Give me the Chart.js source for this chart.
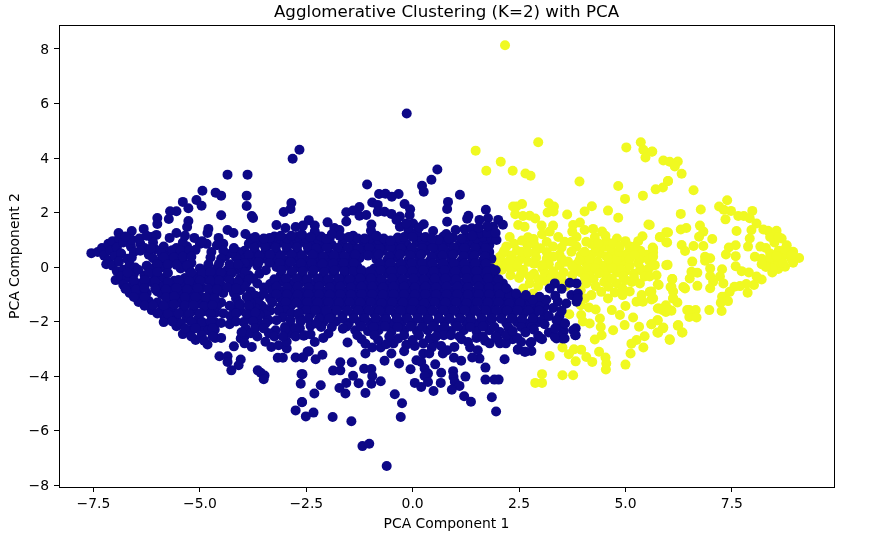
<!DOCTYPE html>
<html>
<head>
<meta charset="utf-8">
<title>Agglomerative Clustering (K=2) with PCA</title>
<script src="https://cdn.jsdelivr.net/npm/chart.js@4"></script>
<style>
  html, body { margin: 0; padding: 0; background: #fff; }
  canvas { display: block; }
</style>
</head>
<body>
<canvas id="pcaChart" width="883" height="551"></canvas>
<script>
// ---- Values, [PC1, PC2] ----
const clusterA_top = [[-0.14,5.63],[0.58,3.58],[0.44,3.2],[0.22,2.98],[0.26,2.76],[1.11,2.65],[0.83,2.39],[0.81,2.13],[0.81,1.66],[1.31,1.88],[1.28,1.77],[1.72,2.1],[0.26,1.57],[0.48,1.32],[-1.07,3.03],[-0.79,2.68],[-0.64,2.69],[-0.33,2.68],[-0.49,2.58],[-0.95,2.37],[-0.82,2.28],[-0.19,2.31],[-0.06,2.12],[-0.07,1.91],[-0.82,2.03],[-0.66,2.03],[-0.5,1.95],[-0.3,1.85],[-1.25,2.2],[-1.56,2.01],[-1.4,2.07],[-1.25,1.88],[-1.09,1.91],[-1.56,1.67],[-0.97,1.56],[-0.98,1.33],[-2,1.64],[-1.84,1.43],[-1.72,1.36],[-1.72,1.15],[-2.44,1.72],[-2.3,1.52],[-2.58,1.52],[-2.3,1.3],[-1.29,1.05],[-1.13,1.05],[-0.68,1.05],[-0.52,0.97],[-2.03,1.03],[-0.3,1.48],[0.01,1.6],[-0.38,1.73],[-0.1,1.35],[0.1,1.3],[-0.2,1.1],[0.3,1.1],[0.79,1.21],[1.01,1.36],[1.22,1.39],[1.39,1.42],[1.57,1.73],[1.77,1.79],[2.01,1.73],[2.12,1.55],[1.57,1.24],[1.89,1.48],[1.97,0.99],[1.75,1.25],[1.4,1.15],[1.15,1.05],[0.6,1.0],[-2.66,4.3],[-2.82,3.97],[-2.85,2.35],[-2.87,2.13],[-3.03,2.02],[-3.2,1.54],[-2.99,1.43],[-2.75,1.47],[-3.36,1.07],[-3.93,1.21],[-2.85,1.15],[-2.6,1.2],[-3.1,1.15],[-3.7,1.1],[-3.5,1.05],[-2.4,1.1],[-1.9,1.2],[-1.5,1.1],[-0.85,1.15],[0,1.1],[0.15,1.45],[0.45,1.05],[0.85,1.05],[1.55,1.45],[1.75,1.5],[1.95,1.25],[-0.15,1.6]];
const clusterA_left = [[-4.35,3.39],[-3.88,3.39],[-4.94,2.8],[-4.63,2.73],[-4.5,2.62],[-3.9,2.62],[-3.9,2.24],[-3.78,1.87],[-3.75,1.8],[-4.5,1.9],[-5.08,2.46],[-5.4,2.39],[-4.96,2.25],[-5.27,2.16],[-5.55,2.05],[-5.7,2.05],[-5.73,1.76],[-6,1.8],[-6,1.58],[-5.27,1.69],[-5.3,1.47],[-4.8,1.4],[-4.82,1.25],[-6.32,1.4],[-6.6,1.32],[-6.91,1.25],[-6.02,1.18],[-6.14,1.1],[-5.55,1.25],[-5.71,1.07],[-5.13,1.07],[-4.35,1.36],[-4.21,1.25],[-4.56,1.07],[-4.84,0.85],[-5.1,0.63],[-4.73,0.55],[-4.26,0.51],[-4.45,0.85],[-4.6,0.8],
[-7.55,0.51],[-7.4,0.55],[-7.3,0.7],[-7.15,0.85],[-7.05,0.95],[-6.9,1.05],[-7.25,0.42],[-7.1,0.6],[-6.95,0.72],[-6.8,0.9],[-7.15,0.25],[-7,0.4],[-6.85,0.5],[-6.62,0.75],[-7.2,0.1],[-7.05,0.05],[-6.9,0.2],[-6.7,0.3],[-6.55,0.55],[-6.95,-0.15],[-6.8,-0.1],[-6.65,0.08],[-6.52,-0.02],[-6.98,-0.48],[-6.85,-0.35],[-6.7,-0.4],[-6.55,-0.25],[-6.4,0.85],[-6.3,0.7],[-6.6,1.0],[-6.42,1.05],[-6.2,0.45],[-6.05,0.65],[-6.1,0.9],[-5.85,0.75],[-5.75,0.55],[-5.55,0.7],[-5.4,0.9],[-5.55,0.45],[-5.35,0.5],[-5.4,0.25],[-5.7,0.25],[-5.95,0.2],[-5.9,-0.02],[-5.2,0.15],[-5.25,-0.1],[-5.0,-0.05],[-4.85,-0.1],[-5.45,-0.05],[-6.15,-0.1],[-6.3,-0.3],[-6.05,-0.3],[-5.85,-0.4],[-5.6,-0.5],[-5.35,-0.4],[-5.1,-0.35],[-4.85,-0.45],[-4.65,-0.3],[-4.45,-0.35],[-4.6,-0.05],[-4.35,-0.1],[-4.15,-0.1],[-6.8,-0.65],[-6.6,-0.7],[-6.4,-0.6],[-6.15,-0.55],[-5.9,-0.7],[-5.65,-0.8],[-5.4,-0.7],[-5.15,-0.65],[-4.95,-0.75],[-4.7,-0.65],[-4.5,-0.65],[-6.65,-0.95],[-6.45,-0.98],[-5.9,-1.0],[-5.7,-1.1],[-5.45,-1.0],[-5.2,-0.95],[-5.0,-1.05],[-4.75,-1.05],[-4.5,-1.3],[-6.44,-1.28],[-6.2,-1.25],[-6.0,-1.3],[-5.75,-1.4],[-5.5,-1.3],[-5.25,-1.25],[-5.05,-1.35],[-4.8,-1.35],[-4.6,-1.45],[-6.13,-1.58],[-5.9,-1.58],[-5.65,-1.65],[-5.4,-1.6],[-5.15,-1.6],[-4.9,-1.62],[-5.83,-1.83],[-5.85,-2.02],[-5.55,-2.17],[-5.4,-2.46],[-5.1,-2.68],[-4.82,-2.84],[-4.5,-2.6],[-4.64,-2.6],[-4.2,-2.91],[-4.54,-3.27],[-4.35,-3.27],[-4.35,-3.48],[-4.04,-3.39],[-4.09,-3.6],[-4.26,-3.79],[-3.64,-3.79],[-3.57,-3.88],[-3.48,-3.98],[-3.5,-4.12],[-3.78,-2.93],[-4.04,-2.62],[-3.17,-3.33],[-3.05,-3.33],[-2.75,-3.32],[-2.58,-3.32],[-2.47,-3.11],[-2.61,-3.93],[-2.63,-4.28],[-2.6,-4.96],[-2.75,-5.26],[-2.51,-5.48],[-4.64,-1.68],[-4.28,-1.8],[-4.65,-2.02],[-4.5,-2.05],[-4.3,-2.1],[-5.03,-1.88],[-5.31,-1.88],[-5.45,-2.07],[-5.22,-2.32],[-4.9,-2.32],[-4.8,-2.32],[-4.96,-2.5],[-3.97,-2.02],[-3.92,-2.26],[-4.02,-2.39],[-3.8,-2.43],[-3.61,-2.07],[-3.38,-1.95],[-3.2,-1.95],[-3.22,-2.32],[-3.38,-2.43],[-3.46,-2.74],[-3.32,-2.93],[-3.15,-2.87],[-2.96,-2.99],[-2.96,-2.74],[-2.87,-2.43],[-2.87,-1.95],[-2.68,-1.7],[-2.63,-2],[-2.54,-2.5],[-3.0,-2.2],[-3.6,-1.75],[-3.85,-1.7],[-4.05,-1.6],[-4.1,-1.3],[-3.8,-1.35]];
const clusterA_leftFill = [[-6.75,1.12],[-6.25,1.15],[-5.35,1.15],[-4.95,0.95],[-6.4,0.6],[-6.15,0.68],[-5.9,0.5],[-5.65,0.62],[-5.45,0.6],[-5.25,0.62],[-4.45,0.6],[-4.2,0.7],[-6.1,0.32],[-5.85,0.35],[-5.6,0.35],[-5.4,0.38],[-5.2,0.38],[-4.75,0.35],[-4.5,0.3],[-6.6,0.35],[-6.45,-0.1],[-6,0.1],[-5.75,0.08],[-5.55,0.08],[-5.3,0.05],[-4.8,0.1],[-4.55,0.12],[-4.3,0.1],[-4.1,0.1],[-6.7,-0.2],[-6.2,-0.22],[-6,-0.18],[-5.75,-0.22],[-5.2,-0.2],[-4.95,-0.22],[-4.75,-0.18],[-4.5,-0.2],[-4.25,-0.22],[-6.55,-0.5],[-6.3,-0.48],[-6.05,-0.52],[-5.75,-0.55],[-5.5,-0.48],[-5.25,-0.52],[-5,-0.5],[-4.75,-0.5],[-4.55,-0.5],[-4.3,-0.48],[-4.1,-0.52],[-6.75,-0.8],[-6.5,-0.82],[-6.3,-0.78],[-6.05,-0.8],[-5.8,-0.82],[-5.55,-0.78],[-5.3,-0.82],[-5.05,-0.78],[-4.8,-0.8],[-4.6,-0.82],[-4.35,-0.75],[-4.15,-0.8],[-6.55,-1.1],[-6.3,-1.1],[-5.8,-1.12],[-5.6,-1.08],[-5.35,-1.12],[-5.1,-1.1],[-4.85,-1.12],[-4.65,-1.15],[-3.9,-1.1],[-6.3,-1.42],[-6.1,-1.4],[-5.85,-1.42],[-5.6,-1.38],[-5.35,-1.42],[-5.15,-1.4],[-4.9,-1.45],[-4.7,-1.4],[-4.3,-1.42],[-4.05,-1.38],[-3.85,-1.42],[-6,-1.7],[-5.75,-1.72],[-5.5,-1.7],[-5.25,-1.72],[-5,-1.7],[-4.75,-1.72],[-4.45,-1.7],[-4.15,-1.7],[-3.9,-1.72],[-3.7,-1.68],[-5.65,-2],[-5.2,-2],[-4.95,-2.02],[-4.75,-2],[-4.15,-2],[-3.75,-2],[-3.45,-2.05],[-5.35,-2.25],[-5.1,-2.25],[-4.7,-2.25],[-3.7,-2.25],[-3.5,-2.25],[-3,-2.3],[-2.75,-2.25],[-5.2,-2.55],[-4.7,-2.55],[-3.65,-2.55],[-3.25,-2.55],[-3.05,-2.55],[-2.75,-2.55],[-4.9,-2.7],[-3.95,-2.8]];
const clusterA_bottom = [[-0.61,-7.3],[-1.18,-6.57],[-1.02,-6.48],[-1.44,-5.66],[-1.88,-5.5],[-2.33,-5.34],[-0.28,-5.5],[-0.25,-5],[-0.42,-4.67],[-1.11,-4.62],[-1.58,-4.64],[-1.72,-4.44],[-1.56,-4.25],[-1.27,-4.26],[-1.4,-3.99],[-2.16,-4.34],[-2.31,-4.64],[-2.6,-4.95],[-2.59,-3.93],[-1.87,-3.8],[-1.7,-3.79],[-1.7,-3.49],[-1.43,-3.49],[-1.14,-3.73],[-0.97,-3.74],[-0.95,-4],[-0.97,-4.28],[-0.75,-4.19],[-1.11,-3.17],[-1.53,-2.77],[-1.98,-2.44],[-2.28,-3.38],[-2.12,-3.22],[-2.44,-3.09],[-2.58,-3.32],[-2.56,-2.52],[-2.4,-2.47],[-2.26,-2.07],[-0.66,-3.44],[-0.5,-3.17],[-0.32,-3.54],[-0.2,-3.09],[-0.05,-3.75],[0.05,-2.9],[0.09,-3.42],[0.25,-3.17],[0.39,-3.17],[0.2,-3.48],[0.28,-3.72],[0.53,-3.57],[0.36,-3.91],[0.67,-3.88],[0.28,-4],[0.05,-4.25],[0.2,-4.4],[0.36,-4.22],[0.66,-4.25],[0.49,-4.55],[0.95,-3.82],[0.96,-4.03],[0.99,-4.22],[1.1,-4.36],[0.92,-4.5],[1.24,-4.02],[1.21,-4.74],[1.37,-4.94],[1.86,-4.78],[1.96,-5.3],[1.71,-4.13],[2.02,-4.13],[1.71,-3.69],[2.16,-3.38],[1.57,-3.36],[1.4,-3.32],[0.97,-3.33],[1.14,-3.44],[0.71,-3.17],[0.81,-3.05],[0.98,-2.93],[0.67,-2.9],[1.53,-3.05],[1.81,-2.8],[2.05,-2.8],[2.19,-2.8],[2.47,-3.03],[2.65,-3.11],[2.79,-3.08],[2.77,-2.78],[3.04,-2.65],[2.95,-2.52],[2.46,-2.6],[3.38,-2.62],[3.52,-2.62],[3.83,-2.5],[3.83,-2.25],[3.57,-2.07],[3.38,-1.95],[3.85,-1.27],[3.73,-1.03],[3.85,-0.6],[3.69,-0.58],[3.34,-0.6],[3.61,-1.34],[3.14,-1.2],[2.98,-1.09],[2.82,-1.2],[2.66,-1.03],[2.43,-0.97],[2.2,-0.78],[-1.11,-2.81],[-0.81,-2.68],[-0.62,-2.83],[-0.34,-2.62],[0,-2.68],[0.4,-2.62],[0.73,-2.5],[-1.64,-2.26],[3.22,-0.79],[3.88,-0.97],[3.88,-1.15],[3.41,-1.27],[3.77,-2.32],[3.82,-2.5],[3.58,-2.07],[3.45,-2.56],[3.34,-2.56],[3.57,-2.62],[2.99,-2.6],[2.79,-2.75],[2.48,-3.02],[2.63,-3.11],[1.92,-4.13],[3.5,-0.8],[3.35,-1.05],[3.3,-1.5],[3.5,-1.6],[3.2,-1.8],[3.1,-2.1],[3.35,-2.25],[2.85,-2.3],[1.3,-2.75],[1.5,-2.6],[2.2,-2.5],[2.35,-2.35],[2.65,-2.4],[-1.3,-2.5],[-0.9,-2.5],[-0.55,-2.55],[-0.2,-2.5],[0.15,-2.5],[0.55,-2.55],[0.9,-2.5],[1.1,-2.55],[1.65,-2.55],[1.95,-2.55]];
const clusterA_core = [[-3.85,0.85],[-3.6,0.9],[-3.35,0.82],[-3.1,0.9],[-2.85,0.85],[-2.6,0.92],[-2.35,0.85],[-2.15,0.78],[-1.9,0.82],[-1.65,0.88],[-1.4,0.8],[-1.15,0.85],[-0.9,0.8],[-0.65,0.85],[-0.4,0.78],[-0.15,0.85],[0.1,0.9],[0.35,0.82],[0.6,0.8],[0.85,0.88],[1.1,0.82],[1.35,0.85],[1.6,0.9],[1.8,0.8],
[-3.95,0.6],[-3.7,0.55],[-3.45,0.62],[-3.2,0.55],[-2.95,0.6],[-2.7,0.55],[-2.45,0.62],[-2.2,0.55],[-1.95,0.5],[-1.7,0.58],[-1.45,0.52],[-1.2,0.58],[-0.95,0.55],[-0.7,0.6],[-0.45,0.52],[-0.2,0.58],[0.05,0.55],[0.3,0.6],[0.55,0.52],[0.8,0.55],[1.05,0.6],[1.3,0.52],[1.55,0.58],[1.8,0.55],
[-4,0.3],[-3.75,0.25],[-3.5,0.32],[-3.25,0.28],[-3,0.25],[-2.75,0.3],[-2.5,0.25],[-2.25,0.32],[-2,0.22],[-1.75,0.28],[-1.5,0.25],[-1.25,0.32],[-0.85,0.28],[-0.6,0.25],[-0.35,0.32],[-0.1,0.25],[0.15,0.3],[0.4,0.22],[0.65,0.28],[0.9,0.3],[1.15,0.25],[1.4,0.3],[1.65,0.25],[1.85,0.3],
[-3.9,0.02],[-3.65,0.05],[-3.2,0],[-2.95,0.05],[-2.7,-0.02],[-2.45,0.02],[-2.2,0],[-1.95,-0.05],[-1.7,0.02],[-1.5,-0.02],[-1.3,0.02],[-0.9,-0.05],[-0.65,0.02],[-0.4,-0.03],[-0.15,0.05],[0.1,-0.02],[0.35,0.03],[0.6,-0.05],[0.85,0],[1.1,0.03],[1.35,-0.03],[1.6,0.02],[1.85,-0.05],
[-3.85,-0.3],[-3.6,-0.25],[-3.1,-0.3],[-2.85,-0.25],[-2.6,-0.3],[-2.35,-0.25],[-2.1,-0.32],[-1.85,-0.25],[-1.6,-0.3],[-1.35,-0.28],[-1.1,-0.25],[-0.85,-0.3],[-0.6,-0.25],[-0.35,-0.32],[-0.1,-0.25],[0.15,-0.3],[0.4,-0.28],[0.65,-0.25],[0.9,-0.32],[1.15,-0.25],[1.4,-0.3],[1.65,-0.28],[1.9,-0.3],
[-3.9,-0.55],[-3.65,-0.6],[-3.35,-0.62],[-3.1,-0.55],[-2.85,-0.6],[-2.6,-0.55],[-2.35,-0.62],[-2.1,-0.55],[-1.85,-0.6],[-1.6,-0.55],[-1.35,-0.6],[-1.1,-0.58],[-0.85,-0.55],[-0.6,-0.62],[-0.35,-0.55],[-0.1,-0.6],[0.15,-0.55],[0.4,-0.6],[0.65,-0.58],[0.9,-0.55],[1.15,-0.6],[1.4,-0.55],[1.65,-0.6],[1.9,-0.58],[2.12,-0.6],
[-4.05,-0.85],[-3.8,-0.9],[-3.3,-0.85],[-3.05,-0.9],[-2.8,-0.85],[-2.55,-0.92],[-2.3,-0.85],[-2.05,-0.9],[-1.8,-0.85],[-1.55,-0.88],[-1.3,-0.85],[-1.05,-0.9],[-0.8,-0.85],[-0.55,-0.9],[-0.3,-0.85],[-0.05,-0.88],[0.2,-0.85],[0.45,-0.9],[0.7,-0.85],[0.95,-0.88],[1.2,-0.85],[1.45,-0.9],[1.7,-0.85],[1.95,-0.9],[2.15,-0.95],
[-3.6,-1.1],[-3.35,-1.15],[-3.1,-1.15],[-2.85,-1.1],[-2.6,-1.18],[-2.35,-1.12],[-2.1,-1.15],[-1.85,-1.1],[-1.6,-1.18],[-1.35,-1.12],[-1.1,-1.15],[-0.85,-1.1],[-0.6,-1.18],[-0.35,-1.12],[-0.1,-1.15],[0.15,-1.1],[0.4,-1.18],[0.65,-1.12],[0.9,-1.15],[1.15,-1.1],[1.4,-1.18],[1.65,-1.12],[1.9,-1.15],[2.15,-1.2],[2.4,-1.2],[2.62,-1.28],
[-3.55,-1.42],[-3.1,-1.45],[-2.85,-1.4],[-2.6,-1.45],[-2.35,-1.4],[-2.1,-1.48],[-1.85,-1.42],[-1.6,-1.45],[-1.35,-1.4],[-1.1,-1.45],[-0.85,-1.42],[-0.6,-1.48],[-0.35,-1.4],[-0.1,-1.45],[0.15,-1.42],[0.4,-1.48],[0.65,-1.4],[0.9,-1.45],[1.15,-1.42],[1.4,-1.48],[1.65,-1.4],[1.9,-1.45],[2.15,-1.42],[2.4,-1.48],[2.65,-1.45],[2.9,-1.48],[3.1,-1.45],
[-2.4,-1.72],[-2.15,-1.75],[-1.9,-1.72],[-1.65,-1.78],[-1.4,-1.72],[-1.15,-1.75],[-0.9,-1.72],[-0.65,-1.78],[-0.4,-1.72],[-0.15,-1.75],[0.1,-1.72],[0.35,-1.78],[0.6,-1.72],[0.85,-1.75],[1.1,-1.72],[1.35,-1.78],[1.6,-1.72],[1.85,-1.75],[2.1,-1.72],[2.35,-1.78],[2.6,-1.72],[2.85,-1.75],[3.1,-1.72],
[-2.1,-2.02],[-1.8,-2.0],[-1.5,-2.05],[-1.25,-2.02],[-1,-2.05],[-0.75,-2.02],[-0.5,-2.08],[-0.25,-2.02],[0,-2.05],[0.25,-2.02],[0.5,-2.08],[0.75,-2.02],[1,-2.05],[1.25,-2.02],[1.5,-2.08],[1.75,-2.0],[2.2,-2.05],[2.45,-2.02],[2.7,-2.08],[2.95,-2.02],
[-1.35,-2.32],[-1.05,-2.35],[-0.8,-2.32],[-0.5,-2.38],[-0.2,-2.32],[0.1,-2.35],[0.35,-2.32],[0.6,-2.3],[0.9,-2.35],[1.2,-2.32],[1.5,-2.35],[1.8,-2.32],[2.05,-2.38]];
const clusterA_coreFill = [[-3.72,0.98],[-3.22,1.0],[-2.72,1.0],[-2.22,1.0],[-1.42,1.0],[-0.28,0.98],[0.22,1.0],[0.72,0.98],[1.22,1.0],[1.72,1.02],
[-3.72,0.72],[-3.47,0.75],[-3.22,0.72],[-2.97,0.75],[-2.72,0.72],[-2.47,0.75],[-2.27,0.68],[-2.02,0.72],[-1.77,0.7],[-1.52,0.72],[-1.27,0.68],[-1.02,0.72],[-0.77,0.7],[-0.52,0.72],[-0.27,0.68],[-0.02,0.72],[0.22,0.7],[0.47,0.72],[0.72,0.68],[0.97,0.72],[1.22,0.7],[1.47,0.72],[1.72,0.7],
[-3.85,0.45],[-3.6,0.42],[-3.35,0.45],[-3.1,0.42],[-2.85,0.45],[-2.6,0.42],[-2.35,0.45],[-2.1,0.38],[-1.85,0.42],[-1.6,0.4],[-1.35,0.45],[-1.05,0.42],[-0.8,0.45],[-0.55,0.4],[-0.3,0.45],[-0.05,0.42],[0.2,0.45],[0.45,0.38],[0.7,0.42],[0.95,0.45],[1.2,0.4],[1.45,0.42],[1.7,0.4],
[-3.85,0.15],[-3.62,0.18],[-3.37,0.15],[-3.12,0.15],[-2.87,0.18],[-2.62,0.13],[-2.37,0.15],[-2.12,0.12],[-1.87,0.12],[-1.62,0.15],[-1.38,0.15],[-0.77,0.12],[-0.52,0.15],[-0.27,0.12],[-0.02,0.15],[0.22,0.15],[0.47,0.12],[0.72,0.13],[0.97,0.15],[1.22,0.12],[1.47,0.15],[1.72,0.12],
[-3.45,-0.12],[-3.08,-0.12],[-2.83,-0.15],[-2.58,-0.15],[-2.33,-0.12],[-2.08,-0.18],[-1.83,-0.12],[-1.6,-0.15],[-1.4,-0.15],[-1.2,-0.12],[-1,-0.15],[-0.75,-0.12],[-0.5,-0.15],[-0.25,-0.12],[0,-0.15],[0.25,-0.12],[0.5,-0.15],[0.75,-0.12],[1,-0.15],[1.25,-0.12],[1.5,-0.15],[1.75,-0.15],[1.95,-0.12],
[-3.75,-0.42],[-3.25,-0.45],[-2.98,-0.42],[-2.73,-0.42],[-2.48,-0.45],[-2.23,-0.42],[-1.98,-0.45],[-1.73,-0.42],[-1.48,-0.45],[-1.23,-0.42],[-0.98,-0.42],[-0.73,-0.45],[-0.48,-0.42],[-0.23,-0.45],[0.02,-0.42],[0.27,-0.45],[0.52,-0.42],[0.77,-0.42],[1.02,-0.45],[1.27,-0.42],[1.52,-0.45],[1.77,-0.42],[2.02,-0.45],
[-3.95,-0.72],[-3.5,-0.75],[-3.2,-0.72],[-2.95,-0.75],[-2.7,-0.72],[-2.45,-0.75],[-2.2,-0.72],[-1.95,-0.75],[-1.7,-0.72],[-1.45,-0.75],[-1.2,-0.72],[-0.95,-0.72],[-0.7,-0.75],[-0.45,-0.72],[-0.2,-0.72],[0.05,-0.75],[0.3,-0.72],[0.55,-0.75],[0.8,-0.72],[1.05,-0.72],[1.3,-0.75],[1.55,-0.72],[1.8,-0.75],[2.02,-0.75],[2.25,-0.9],
[-3.5,-0.98],[-3.2,-1],[-2.95,-1],[-2.7,-1.02],[-2.45,-1],[-2.2,-1],[-1.95,-1.02],[-1.7,-1],[-1.45,-1.02],[-1.2,-1],[-0.95,-1],[-0.7,-1.02],[-0.45,-1],[-0.2,-1],[0.05,-1.02],[0.3,-1],[0.55,-1.02],[0.8,-1],[1.05,-1],[1.3,-1.02],[1.55,-1],[1.8,-1],[2.05,-1.02],[2.28,-1.05],[2.5,-1.12],
[-3.3,-1.3],[-2.98,-1.28],[-2.73,-1.3],[-2.48,-1.28],[-2.23,-1.3],[-1.98,-1.28],[-1.73,-1.3],[-1.48,-1.28],[-1.23,-1.3],[-0.98,-1.28],[-0.73,-1.32],[-0.48,-1.28],[-0.23,-1.3],[0.02,-1.28],[0.27,-1.32],[0.52,-1.28],[0.77,-1.3],[1.02,-1.28],[1.27,-1.32],[1.52,-1.28],[1.77,-1.3],[2.02,-1.28],[2.27,-1.32],[2.52,-1.3],[2.77,-1.32],[3,-1.35],
[-3.35,-1.6],[-2.98,-1.58],[-2.5,-1.58],[-2.28,-1.58],[-2.03,-1.6],[-1.78,-1.58],[-1.53,-1.6],[-1.28,-1.58],[-1.03,-1.6],[-0.78,-1.6],[-0.53,-1.58],[-0.28,-1.6],[-0.03,-1.58],[0.22,-1.6],[0.47,-1.6],[0.72,-1.58],[0.97,-1.6],[1.22,-1.58],[1.47,-1.6],[1.72,-1.58],[1.97,-1.6],[2.22,-1.6],[2.47,-1.58],[2.72,-1.6],[2.97,-1.6],
[-2.2,-1.9],[-1.95,-1.88],[-1.65,-1.9],[-1.38,-1.88],[-1.12,-1.9],[-0.87,-1.88],[-0.62,-1.92],[-0.37,-1.88],[-0.12,-1.9],[0.12,-1.88],[0.37,-1.92],[0.62,-1.88],[0.87,-1.9],[1.12,-1.88],[1.37,-1.92],[1.62,-1.88],[1.87,-1.9],[2.08,-1.9],[2.32,-1.9],[2.57,-1.92],[2.82,-1.9],[3.05,-1.95],
[-1.55,-2.18],[-1.2,-2.18],[-0.92,-2.2],[-0.65,-2.18],[-0.35,-2.2],[-0.05,-2.18],[0.22,-2.2],[0.47,-2.18],[0.75,-2.2],[1.05,-2.18],[1.35,-2.2],[1.65,-2.18],[1.92,-2.2],[2.25,-2.22],[2.55,-2.2],[2.8,-2.2]];
const clusterA_gaps = [[-3.8,1.05],[-3.25,1.12],[-2.95,1.05],[-2.7,1.12],[-2.5,1.05],[-2.15,1.12],[-1.95,1.05],[-1.6,1.05],[-1.4,1.15],[-1,1.05],[-0.8,1],[-0.35,1.08],[0.15,1.12],[0.72,1.12],[0.95,1.08],[1.25,1.12],[1.5,1.05],[1.65,1.1],[1.85,1.05],
[-4.1,0.55],[-3.95,0.15],[-4.05,-0.05],[-3.95,-0.2],[-4.05,-0.4],[-3.85,-0.45],[-3.95,-0.7],[-4.2,-0.95],[-3.7,-1.05],[-3.85,-1.2],[-3.65,-1.3],[-4.2,-1.55],[-3.7,-1.5],[-3.45,-1.55],[-3.45,-1.75],[-3.15,-1.6],[-3.05,-1.85],[-2.85,-1.7],[-2.65,-1.85],[-2.45,-1.9],[-2.4,-2.15],[-2.15,-2.2],[-1.9,-2.2],[-2.85,-2.2],[-2.65,-2.25],[-2.3,-2.75],[-2.1,-2.6],[-1.2,-2.65],[-0.95,-2.95],[-0.75,-2.95],[-0.45,-2.8],[-0.15,-2.85],[0.25,-2.8],[0.5,-2.8],[0.45,-2.95],[1.15,-2.65],[1.35,-2.95],[1.7,-2.7],[2,-2.65],[2.35,-2.65],[2.55,-2.75],[3.2,-2.4],[3.55,-2.35],[3.5,-2.15],[3.45,-1.8],
[-6.05,0],[-6.25,0.05],[-5.3,0.75],[-5,0.85],[-4.65,-0.2],[-4.4,0.4],[-4.15,0.35],[-4.25,-0.6],[-4.45,-0.95],[-4.15,-1.15],[-6.25,-0.95],[-6,-0.9],[-5.55,-1.2],[-5.2,-1.15],[-4.95,-1.2],[-5.05,-0.55],[-4.6,-0.9],[-4.75,-1.55],[-5.55,-1.85],[-5.7,-1.9],[-5.05,-2.15],[-4.85,-2.1],[-4.65,-2.3],[-3.85,-1.9],[-3.65,-1.9],[-3.95,-2.55]];

const clusterB_top = [[2.17,8.14],[2.95,4.58],[1.48,4.27],[2.07,3.86],[1.73,3.53],[2.35,3.53],[2.65,3.43],[2.77,3.35],[3.92,3.14],[5.02,4.39],[5.36,4.58],[5.42,4.3],[5.62,4.23],[5.47,4.02],[5.89,3.91],[6.04,3.86],[4.83,2.97],[4.99,2.5],[5.41,2.62],[5.71,2.85],[5.88,2.92],[6,3.16],[4.21,2.23],[4.04,2.04],[4.59,2.07],[4.83,1.81],[3.63,1.93],[5.54,1.56],[5.4,1.13],[5.81,1.1],[5.96,1.28],[5.96,0.91],[5.96,0.07],[2.57,2.31],[2.44,2.22],[2.41,1.94],[3.2,2.34],[3.32,2.22],[3.17,2],[3.31,2.04],[2.59,1.87],[2.75,1.88],[2.88,1.78],[2.48,1.54],[2.63,1.48],[3.03,1.52],[3.3,1.52],[3.77,1.54],[3.93,1.63],[3.75,1.3],[4.04,1.36],[4.24,1.4],[3.04,1.2],[3.22,1.3],[3.42,1.1],[3.57,0.93],[3.73,0.93],[4.08,0.93],[4.28,1.1],[4.53,1.15],[2.28,1.1],[2.57,0.97],[2.71,1.09],[2.84,1.03],[2.2,0.75],[2.12,0.5],[2.55,0.56],[2.71,0.52],[3,0.69],[3.3,0.75],[3.3,0.38],[3.73,0.56],[4.04,0.56],[4.36,0.87],[4.71,0.87],[4.87,0.75],[5.1,0.75],[5.22,0.75],[5.22,0.44],[5.64,0.72],[5.65,0.53],[5.54,0.27],[5.69,0.07],[2.28,0.25],[2.71,0.19],[3.03,0.07],[3.57,0.19],[3.92,0.25],[2,0.14],[2.05,0.38],[1.93,0.01],[2.15,0.6],[2.36,2.22]];
const clusterB_right = [[5.63,4.24],[6.23,3.87],[6.16,3.69],[6.32,3.42],[6,3.16],[6.6,2.82],[7.39,2.45],[7.2,2.22],[7.31,2.1],[7.48,2.06],[7.35,1.75],[6.77,2.11],[6.3,1.95],[7.65,1.87],[7.78,1.87],[7.98,2.06],[7.92,1.79],[8.08,1.6],[8.24,1.38],[8.35,1.33],[8.55,1.33],[8.67,1.05],[8.79,0.8],[8.94,0.56],[9.08,0.33],[8.94,0.16],[8.75,0.01],[8.59,-0.07],[8.45,-0.2],[8.2,-0.46],[8.02,-0.66],[7.87,-0.94],[7.84,-0.62],[7.69,-0.7],[7.56,-0.72],[7.45,-0.91],[7.33,-1.09],[7.27,-1.09],[7.41,-1.25],[7.24,-1.31],[7.26,-1.61],[6.97,-1.58],[6.5,-1.58],[6.65,-1.58],[6.5,-1.83],[6.67,-1.85],[7.61,1.32],[7.96,1.36],[7.92,1.05],[7.88,0.75],[8.17,0.75],[8.04,0.38],[7.59,0.8],[7.43,0.72],[7.36,0.46],[7.59,0.4],[7.59,0.03],[7.73,-0.15],[7.9,-0.2],[8.08,-0.35],[6.75,1.52],[6.83,1.3],[6.73,1.11],[7.04,1.03],[6.83,0.77],[6.6,0.77],[6.32,0.81],[6.4,0.59],[6.3,1.38],[6.43,1.43],[6,1.27],[5.81,1.09],[5.98,0.9],[5.57,1.54],[6.87,0.38],[6.99,0.32],[6.87,0.23],[6.57,0.2],[5.99,0.08],[6.99,-0.05],[6.99,-0.33],[7.27,-0.08],[7.22,-0.35],[7.3,-0.6],[7.06,-0.54],[6.99,-0.78],[6.55,-0.17],[6.69,-0.21],[6.51,-0.42],[6.69,-0.69],[6.36,-0.73],[6.1,-0.44],[6.06,-0.73],[6.12,-0.9],[5.78,-0.66],[5.73,-0.3],[5.65,0.68],[5.65,0.38],[5.65,0.07],[5.57,-0.35],[5.61,-0.9],[5.61,-1.19],[6.12,-1.15],[6.22,-1.3],[5.79,-1.52],[5.95,-1.4],[5.95,-1.65],[6.08,-1.6],[5.75,-1.95],[5.89,-2.22],[5.61,-2.1],[5.77,-2.41],[6.23,-2.15],[6.33,-2.4],[6.04,-2.65],[8.5,0.9],[8.6,0.6],[8.4,0.5],[8.7,0.4],[8.5,0.2],[8.3,0.7],[8.4,1.1],[8.8,0.5],[8.6,0.15],[8.3,0.15],[8.2,0.3],[8.9,0.3],[8.45,-0.05],[8.7,0.15],[8.3,0],[8.4,0.35],[8.6,1.1],[8.75,0.65],[8.55,0.4],[8.9,0.45],[8.2,0.1]];
const clusterB_bottom = [[3.68,-1.73],[3.96,-1.76],[4.14,-1.48],[4.3,-1.56],[4.2,-1.03],[4.43,-0.91],[4.59,-1.15],[4.75,-0.93],[4.93,-0.79],[4.93,-1.03],[4.68,-1.58],[5,-1.43],[4.87,-1.76],[5.18,-1.85],[4.4,-1.89],[4.16,-2.07],[4,-2],[4.42,-2.2],[4.71,-2.32],[4.98,-2.13],[5.32,-2.19],[4.44,-2.5],[4.28,-2.66],[5.45,-2.54],[5.26,-2.68],[5.14,-2.81],[5.12,-3.17],[5.42,-2.95],[6.04,-2.68],[5,-3.58],[3.52,-2.95],[3.79,-3.02],[3.67,-3.2],[3.22,-3.26],[3.96,-3.03],[4.08,-3.3],[3.83,-3.46],[4.22,-3.48],[4.38,-3.11],[4.53,-3.32],[4.55,-3.54],[4.54,-3.76],[3.04,-3.93],[2.88,-4.25],[3.04,-4.25],[3.52,-3.97],[3.77,-3.97],[5.26,-1.27],[5.41,-1.27],[5.34,-0.6],[5.38,-1.03],[5.57,-0.91],[5.65,-1.15],[5.76,-0.63],[5.76,-1.52],[5.88,-1.58],[6.04,-1.58],[6.12,-1.15],[6.08,-0.72],[6.1,-0.44],[6.45,-1.58],[5.76,-1.95],[5.61,-2.1],[5.88,-2.25],[5.75,-2.4],[6.24,-2.13],[6.34,-2.4],[6.4,-0.79],[5,-0.48],[4.68,-0.42],[4.38,-0.23],[4.08,-0.6]];
const clusterB_core = [[2.1,-0.1],[2.3,-0.3],[2.5,-0.4],[2.6,-0.79],[2.83,-0.97],[2.75,-0.6],[2.95,-0.7],[3.1,-0.5],[2.4,0],[2.6,-0.1],[2.85,-0.25],[3.1,-0.2],[3.3,-0.15],[3.55,-0.2],[3.75,-0.3],[3.95,-0.2],[4.15,-0.25],[4.55,-0.15],[4.8,-0.2],[5,-0.15],[5.2,-0.25],[5.4,-0.15],[2.5,0.25],[2.9,0.35],[3.15,0.3],[3.45,0.45],[3.65,0.2],[3.85,0.1],[4.05,0.2],[4.2,0.05],[4.35,0.2],[4.5,0.05],[4.65,0.2],[4.8,0.05],[4.95,0.2],[5.1,0.05],[5.3,0.15],[4.2,0.45],[4.4,0.5],[4.55,0.4],[4.7,0.55],[4.9,0.4],[5.05,0.5],[4.3,0.7],[4.5,0.75],[4.65,0.7],[5,0.95],[4.8,1.05],[3.9,-0.1],[4.1,0],[4.3,-0.05],[4.5,-0.15],[4.7,-0.05],[4.9,-0.1],[3.75,-0.55],[4.25,-0.45],[4.5,-0.55],[4.8,-0.6],[5.15,-0.55],[3.95,-0.85],[5.1,-0.9],[4.3,-0.7],[4.6,-0.72],
[2.38,0.85],[2.45,0.6],[2.32,0.42],[2.85,0.85],[3.15,0.92],[2.88,0.55],[3.15,0.55],[3.5,0.72],[3.85,0.75],[3.5,0.3],[3.95,0.42],[2.15,0.15],[2.6,0.4],[2.85,0.12],[3.2,0.1],[3.45,0.05],[3.75,0.02],[2.3,-0.05],[2.55,-0.25],[2.75,-0.35],[2.95,-0.45],[3.25,-0.4],[3.5,-0.45],[3.05,-0.05],[3.35,-0.3],[4.05,-0.4],[4.15,0.3],[4.6,0.3],[4.8,0.3],[5.1,0.3],[5.35,0.3],[5.35,-0.05],[5.55,-0.05],[5.5,0.45],[5.35,0.6],[4.95,-0.35],[5.2,-0.4],[5.45,-0.35],[4.55,-0.35],[4.2,0.85],[3.85,1.1],[4.55,0.95],[4.45,1.3],[4.85,0.55],[2.7,0.8],[2.45,0.1],[5.3,0.95],[3.6,-0.7],[4.05,-1.15],[3.95,-1.4]];

const xTickStep = 2.5;
const yTickStep = 2;
const plasmaLow = '#0d0887';
const plasmaHigh = '#f0f921';

function toPoints(list) {
  return list.map(p => ({ x: p[0], y: p[1] }));
}

const FONT = { family: "'DejaVu Sans', sans-serif", size: 13.9 };

// ---- top and right spines ----
const frame = {
  id: 'frame',
  afterDraw(chart) {
    const a = chart.chartArea, ctx = chart.ctx;
    ctx.save();
    ctx.strokeStyle = '#000';
    ctx.lineWidth = 1;
    ctx.strokeRect(Math.round(a.left) + 0.5, Math.round(a.top) + 0.5, Math.round(a.right - a.left), Math.round(a.bottom - a.top));
    ctx.restore();
  }
};

function fmt(v, digits) {
  const s = Math.abs(v).toFixed(digits);
  return v < 0 ? '\u2212' + s : s;
}

new Chart(document.getElementById('pcaChart'), {
  type: 'scatter',
  data: {
    datasets: [
      {
        label: 'Cluster 0',
        data: toPoints([...clusterA_core, ...clusterA_coreFill, ...clusterA_gaps, ...clusterA_left, ...clusterA_leftFill, ...clusterA_top, ...clusterA_bottom]),
        backgroundColor: plasmaLow,
        borderWidth: 0,
        pointRadius: 5
      },
      {
        label: 'Cluster 1',
        data: toPoints([...clusterB_core, ...clusterB_top, ...clusterB_right, ...clusterB_bottom]),
        backgroundColor: plasmaHigh,
        borderWidth: 0,
        pointRadius: 5
      }
    ]
  },
  options: {
    responsive: false,
    animation: false,
    layout: { padding: { right: 49, top: 0, left: 0, bottom: 0 } },
    plugins: {
      legend: { display: false },
      tooltip: { enabled: false },
      title: {
        display: true,
        text: 'Agglomerative Clustering (K=2) with PCA',
        fullSize: false,
        color: '#000',
        font: { family: FONT.family, size: 16.67, weight: 'normal', lineHeight: 1.2 },
        padding: { top: 3, bottom: 2 }
      }
    },
    scales: {
      x: {
        type: 'linear',
        min: -8.31,
        max: 9.9,
        afterFit: s => { s.height = 64; },
        grid: { drawOnChartArea: false, drawTicks: true, tickLength: 5, tickColor: '#000', tickWidth: 1 },
        border: { color: '#000', width: 1 },
        ticks: { stepSize: xTickStep, includeBounds: false, color: '#000', font: FONT, padding: 4, maxRotation: 0, callback: v => fmt(v, 1) },
        title: { display: true, text: 'PCA Component 1', color: '#000', font: FONT, padding: { top: 5, bottom: 18 } }
      },
      y: {
        type: 'linear',
        min: -8.07,
        max: 8.88,
        afterFit: s => { s.width = 59; },
        grid: { drawOnChartArea: false, drawTicks: true, tickLength: 5, tickColor: '#000', tickWidth: 1 },
        border: { color: '#000', width: 1 },
        ticks: { stepSize: yTickStep, includeBounds: false, color: '#000', font: FONT, padding: 5, labelOffset: 1, callback: v => fmt(v, 0) },
        title: { display: true, text: 'PCA Component 2', color: '#000', font: FONT, padding: { top: 7, bottom: 0 } }
      }
    }
  },
  plugins: [frame]
});
</script>
</body>
</html>
